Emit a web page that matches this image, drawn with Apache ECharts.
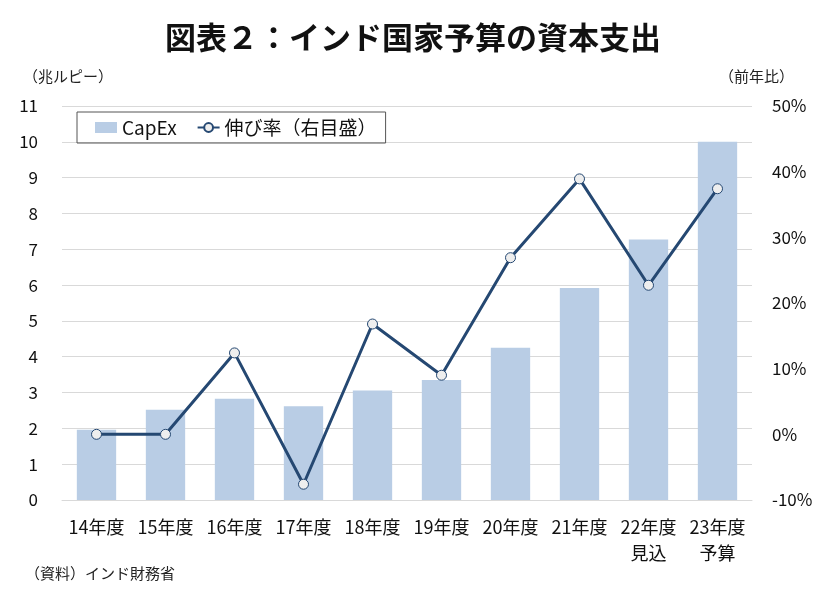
<!DOCTYPE html>
<html>
<head>
<meta charset="utf-8">
<script src="https://cdn.jsdelivr.net/npm/echarts@6/dist/echarts.min.js"></script>
<style>
html,body{margin:0;padding:0;background:#fff;}
#main{width:830px;height:594px;}
</style>
</head>
<body>
<div id="main"></div>
<script>
var categories = ['14年度','15年度','16年度','17年度','18年度','19年度','20年度','21年度','22年度\n見込','23年度\n予算'];
var capex = [1.96, 2.52, 2.83, 2.62, 3.06, 3.35, 4.25, 5.92, 7.27, 10.0];
var growth = [0.0, 0.0, 12.4, -7.6, 16.8, 9.0, 26.9, 38.9, 22.7, 37.4];
var leftTicks = {min: 0, max: 11, interval: 1};
var rightTicks = {min: -10, max: 50, interval: 10};

var font = '"Noto Sans CJK JP", sans-serif';
var myChart = echarts.init(document.getElementById('main'));

option = {
    backgroundColor: '#fff',
    textStyle: {fontFamily: font},
    title: [
        {
            text: '図表２：インド国家予算の資本支出',
            left: 160,
            top: 17,
            textStyle: {fontSize: 31, fontWeight: 'bold', color: '#111', fontFamily: font}
        },
        {
            text: '（兆ルピー）',
            left: 18,
            top: 64,
            textStyle: {fontSize: 15, fontWeight: 'normal', color: '#222', fontFamily: font}
        },
        {
            text: '（前年比）',
            left: 714,
            top: 64,
            textStyle: {fontSize: 15, fontWeight: 'normal', color: '#222', fontFamily: font}
        },
        {
            text: '（資料）インド財務省',
            left: 20,
            top: 561,
            textStyle: {fontSize: 15, fontWeight: 'normal', color: '#222', fontFamily: font}
        }
    ],
    legend: {
        left: 77,
        top: 112,
        padding: [6, 9, 6, 18],
        itemGap: 20,
        itemWidth: 22,
        itemHeight: 11,
        borderColor: '#555',
        borderWidth: 1,
        textStyle: {fontSize: 19, color: '#111', fontFamily: font},
        data: [
            {name: 'CapEx', icon: 'rect'},
            {name: '伸び率（右目盛）'}
        ]
    },
    grid: {left: 62, right: 78, top: 106, bottom: 94},
    xAxis: {
        type: 'category',
        data: categories,
        axisTick: {show: false},
        axisLine: {lineStyle: {color: '#d9d9d9', width: 1}},
        axisLabel: {fontSize: 18, color: '#111', lineHeight: 26, margin: 14, interval: 0}
    },
    yAxis: [
        {
            type: 'value',
            min: leftTicks.min,
            max: leftTicks.max,
            interval: leftTicks.interval,
            axisLine: {show: false},
            axisTick: {show: false},
            splitLine: {lineStyle: {color: '#d9d9d9', width: 1}},
            axisLabel: {fontSize: 17, color: '#111', margin: 24}
        },
        {
            type: 'value',
            min: rightTicks.min,
            max: rightTicks.max,
            interval: rightTicks.interval,
            axisLine: {show: false},
            axisTick: {show: false},
            splitLine: {show: false},
            axisLabel: {fontSize: 17, color: '#111', margin: 20, formatter: '{value}%'}
        }
    ],
    series: [
        {
            name: 'CapEx',
            type: 'bar',
            data: capex,
            barWidth: '57%',
            itemStyle: {color: '#b9cde5'}
        },
        {
            name: '伸び率（右目盛）',
            type: 'line',
            yAxisIndex: 1,
            data: growth,
            symbol: 'circle',
            symbolSize: 10,
            lineStyle: {color: '#254872', width: 3},
            itemStyle: {color: '#eeeeee', borderColor: '#254872', borderWidth: 1}
        }
    ]
};
myChart.setOption(option);
</script>
</body>
</html>
